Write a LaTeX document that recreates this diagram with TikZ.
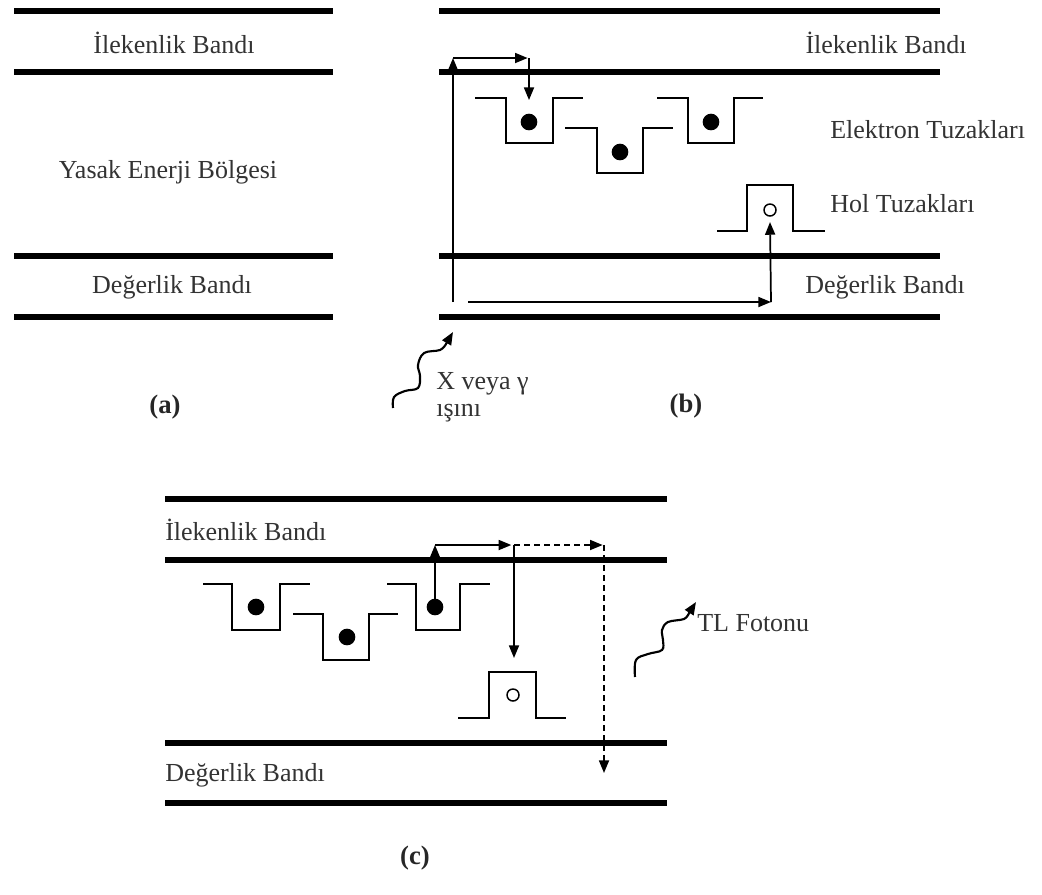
\documentclass[tikz,border=0pt]{standalone}
\usepackage{fontspec}
\setmainfont{Liberation Serif}
\usetikzlibrary{arrows.meta}
\tikzset{
  band/.style={line width=4.8pt},
  trap/.style={line width=1.6pt, line join=miter},
  arr/.style={line width=1.3pt, -{Triangle[length=9.5pt,width=7.5pt]}},
  darr/.style={arr, dash pattern=on 4.5pt off 3pt},
  lbl/.style={inner sep=0pt, text=black!80, font=\fontsize{19.5}{22}\selectfont},
  plbl/.style={inner sep=0pt, text=black!85, font=\fontsize{20}{22}\selectfont\bfseries},
  edot/.style={circle, fill=black, minimum size=12.5pt, inner sep=0pt},
  hdot/.style={circle, draw=black, line width=1.1pt, minimum size=9pt, inner sep=0pt},
  wave/.style={line width=1.6pt, -{Triangle[length=9.5pt,width=7.5pt]}}
}
\begin{document}
\begin{tikzpicture}[x=0.75pt, y=-0.75pt]
\useasboundingbox (0,0) rectangle (1042,894);
% ---------- (a) ----------
\foreach \yy in {11,72,256,317} \draw[band] (14,\yy) -- (333,\yy);
\node[lbl] (aC) at (174,43) {İlekenlik Bandı};
\node[lbl] (aY) at (168,172) {Yasak Enerji Bölgesi};
\node[lbl] (aV) at (172,287) {Değerlik Bandı};
\node[plbl] (aL) at (165,407) {(a)};
% ---------- (b) ----------
\foreach \yy in {11,72,256,317} \draw[band] (439,\yy) -- (940,\yy);
\node[lbl] (bC) at (886,43) {İlekenlik Bandı};
\node[lbl, anchor=west] (bE) at (830,130) {Elektron Tuzakları};
\node[lbl, anchor=west] (bH) at (830,204) {Hol Tuzakları};
\node[lbl, anchor=west] (bV) at (805,287) {Değerlik Bandı};
\node[plbl] (bL) at (686,406) {(b)};
\draw[trap] (475,98) -- (506,98) -- (506,143) -- (553,143) -- (553,98) -- (583,98);
\draw[trap] (565,128) -- (597,128) -- (597,173) -- (643,173) -- (643,128) -- (673,128);
\draw[trap] (657,98) -- (688,98) -- (688,143) -- (734,143) -- (734,98) -- (763,98);
\draw[trap] (717,231) -- (747,231) -- (747,185) -- (793,185) -- (793,231) -- (825,231);
\node[edot] (be1) at (529,122) {};
\node[edot] (be2) at (620,152) {};
\node[edot] (be3) at (711,122) {};
\node[hdot] (bh1) at (770,210) {};
\coordinate (bs) at (453,302);
\coordinate (bt) at (453,58);
\coordinate (bu) at (529,58);
\coordinate (bw) at (468,302);
\coordinate (bx) at (771,302);
\draw[arr] (bs) -- (bt);
\draw[arr] (bt) -- ([xshift=-1pt]bu);
\draw[arr] (bu) -- ([yshift=10pt]be1.north);
\draw[arr] (bw) -- (bx);
\draw[arr] (bx) -- ([yshift=-4pt]bh1.south);
\coordinate (xs) at (393,408);
\coordinate (xt) at (453,332);
\draw[wave] plot[smooth, tension=0.6] coordinates {(393,408) (394,397) (405,391) (418,388) (420,376) (418,365) (424,353) (440,350) (446,344)} -- (xt);
\node[lbl, anchor=west] (bX) at (436,384) {X veya γ};
\node[lbl, anchor=west] (bI) at (436,413) {ışını};
% ---------- (c) ----------
\foreach \yy in {499,560,743,803} \draw[band] (165,\yy) -- (667,\yy);
\node[lbl, anchor=west] (cC) at (165,530) {İlekenlik Bandı};
\node[lbl, anchor=west] (cV) at (165,775) {Değerlik Bandı};
\node[lbl, anchor=west] (cT) at (697,623) {TL Fotonu};
\node[plbl] (cL) at (415,858) {(c)};
\draw[trap] (203,584) -- (232,584) -- (232,630) -- (280,630) -- (280,584) -- (310,584);
\draw[trap] (293,614) -- (323,614) -- (323,660) -- (369,660) -- (369,614) -- (398,614);
\draw[trap] (387,584) -- (416,584) -- (416,630) -- (460,630) -- (460,584) -- (490,584);
\draw[trap] (458,718) -- (489,718) -- (489,672) -- (536,672) -- (536,718) -- (566,718);
\node[edot] (ce1) at (256,607) {};
\node[edot] (ce2) at (347,637) {};
\node[edot] (ce3) at (435,607) {};
\node[hdot] (ch1) at (513,695) {};
\coordinate (ct) at (435,545);
\coordinate (cu) at (514,545);
\coordinate (cd) at (514,658);
\coordinate (cw) at (604,545);
\coordinate (cz) at (604,773);
\draw[arr] ([yshift=-6pt]ce3.north) -- (ct);
\draw[arr] (ct) -- ([xshift=-2pt]cu);
\draw[arr] (cu) -- (cd);
\draw[darr] (cu) -- ([xshift=-1pt]cw);
\draw[darr] (cw) -- (cz);
\coordinate (ps) at (635,677);
\coordinate (pt) at (696,602);
\draw[wave] plot[smooth, tension=0.6] coordinates {(635,677) (636,660) (648,654) (662,650) (663,640) (662,630) (668,622) (684,619) (689,613)} -- (pt);
\end{tikzpicture}
\end{document}
